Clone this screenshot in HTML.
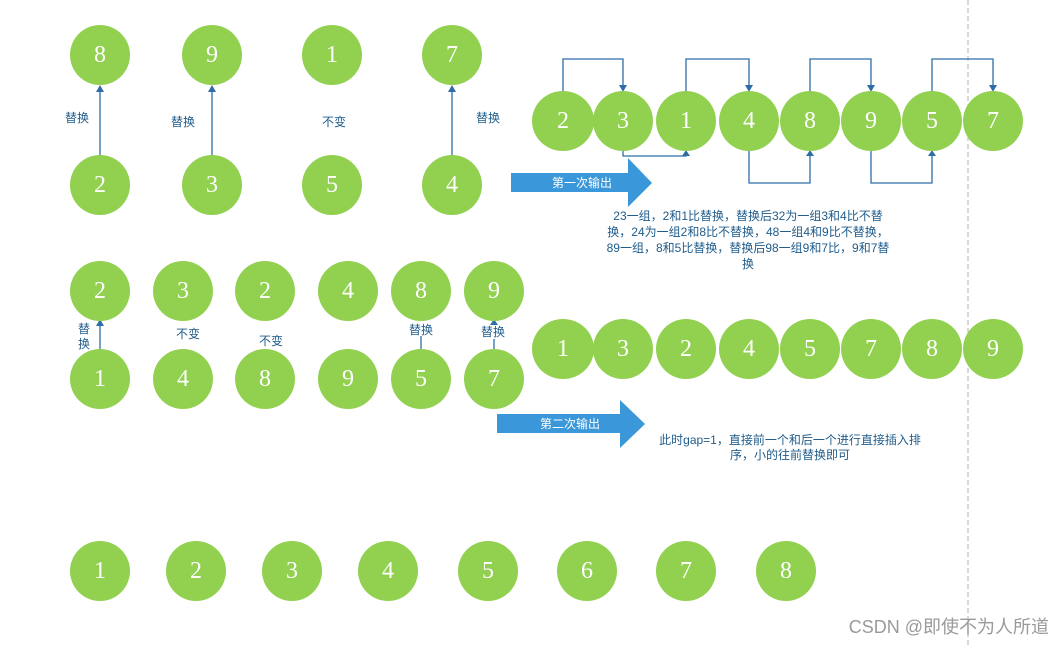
<!DOCTYPE html>
<html><head><meta charset="utf-8"><style>
html,body{margin:0;padding:0;background:#fff;}
svg{display:block}
.c{fill:#92d050}
.n{fill:#fff;font-family:"Liberation Serif","Noto Serif CJK SC",serif;font-size:24px;text-anchor:middle;dominant-baseline:central}
.l{fill:#1f5c8b;font-family:"Liberation Sans","Noto Sans CJK SC",sans-serif;font-size:12px;text-anchor:middle}
.ln{stroke:#2e6ea6;stroke-width:1.3;fill:none}
.ah{fill:#2e6ea6}
.w{fill:#fff;font-family:"Liberation Sans","Noto Sans CJK SC",sans-serif;font-size:12px;text-anchor:middle}
</style></head><body>
<svg width="1064" height="646" viewBox="0 0 1064 646">
<line x1="968" y1="0" x2="968" y2="646" stroke="#b0b0b0" stroke-width="1" stroke-dasharray="5,3"/>
<g>
<circle class="c" cx="100" cy="55" r="30"/><text class="n" x="100" y="55">8</text>
<circle class="c" cx="212" cy="55" r="30"/><text class="n" x="212" y="55">9</text>
<circle class="c" cx="332" cy="55" r="30"/><text class="n" x="332" y="55">1</text>
<circle class="c" cx="452" cy="55" r="30"/><text class="n" x="452" y="55">7</text>
<circle class="c" cx="100" cy="185" r="30"/><text class="n" x="100" y="185">2</text>
<circle class="c" cx="212" cy="185" r="30"/><text class="n" x="212" y="185">3</text>
<circle class="c" cx="332" cy="185" r="30"/><text class="n" x="332" y="185">5</text>
<circle class="c" cx="452" cy="185" r="30"/><text class="n" x="452" y="185">4</text>
<line class="ln" x1="100" y1="155" x2="100" y2="90"/><polygon class="ah" points="100,85 96,92 104,92"/>
<line class="ln" x1="212" y1="155" x2="212" y2="90"/><polygon class="ah" points="212,85 208,92 216,92"/>
<line class="ln" x1="452" y1="155" x2="452" y2="90"/><polygon class="ah" points="452,85 448,92 456,92"/>
<text class="l" x="77" y="122">替换</text>
<text class="l" x="183" y="126">替换</text>
<text class="l" x="334" y="126">不变</text>
<text class="l" x="488" y="122">替换</text>
</g>
<g>
<polyline class="ln" points="563,91 563,59 623,59 623,87"/><polygon class="ah" points="623,92 619,85 627,85"/>
<polyline class="ln" points="686,91 686,59 749,59 749,87"/><polygon class="ah" points="749,92 745,85 753,85"/>
<polyline class="ln" points="810,91 810,59 871,59 871,87"/><polygon class="ah" points="871,92 867,85 875,85"/>
<polyline class="ln" points="932,91 932,59 993,59 993,87"/><polygon class="ah" points="993,92 989,85 997,85"/>
<polyline class="ln" points="623,151 623,156 686,156 686,154"/><polygon class="ah" points="686,150 682,156 690,156"/>
<polyline class="ln" points="749,151 749,183 810,183 810,155"/><polygon class="ah" points="810,150 806,156 814,156"/>
<polyline class="ln" points="871,151 871,183 932,183 932,155"/><polygon class="ah" points="932,150 928,156 936,156"/>
<ellipse class="c" cx="563" cy="121" rx="31" ry="30"/><text class="n" x="563" y="121">2</text>
<ellipse class="c" cx="623" cy="121" rx="30" ry="30"/><text class="n" x="623" y="121">3</text>
<ellipse class="c" cx="686" cy="121" rx="30" ry="30"/><text class="n" x="686" y="121">1</text>
<ellipse class="c" cx="749" cy="121" rx="30" ry="30"/><text class="n" x="749" y="121">4</text>
<ellipse class="c" cx="810" cy="121" rx="30" ry="30"/><text class="n" x="810" y="121">8</text>
<ellipse class="c" cx="871" cy="121" rx="30" ry="30"/><text class="n" x="871" y="121">9</text>
<ellipse class="c" cx="932" cy="121" rx="30" ry="30"/><text class="n" x="932" y="121">5</text>
<ellipse class="c" cx="993" cy="121" rx="30" ry="30"/><text class="n" x="993" y="121">7</text>
<polygon fill="#3a97d9" points="511,173 628,173 628,158 652,183 628,207 628,192 511,192"/>
<text class="w" x="582" y="187">第一次输出</text>
<text class="l" x="748" y="220">23一组，2和1比替换，替换后32为一组3和4比不替</text>
<text class="l" x="748" y="236">换，24为一组2和8比不替换，48一组4和9比不替换，</text>
<text class="l" x="748" y="252">89一组，8和5比替换，替换后98一组9和7比，9和7替</text>
<text class="l" x="748" y="268">换</text>
</g>
<g>
<line class="ln" x1="100" y1="349" x2="100" y2="324"/><polygon class="ah" points="100,319 96,326 104,326"/>
<line class="ln" x1="421" y1="349" x2="421" y2="336"/>
<line class="ln" x1="494" y1="349" x2="494" y2="339"/><polygon class="ah" points="494,319 490,325 498,325"/>
<circle class="c" cx="100" cy="291" r="30"/><text class="n" x="100" y="291">2</text>
<circle class="c" cx="183" cy="291" r="30"/><text class="n" x="183" y="291">3</text>
<circle class="c" cx="265" cy="291" r="30"/><text class="n" x="265" y="291">2</text>
<circle class="c" cx="348" cy="291" r="30"/><text class="n" x="348" y="291">4</text>
<circle class="c" cx="421" cy="291" r="30"/><text class="n" x="421" y="291">8</text>
<circle class="c" cx="494" cy="291" r="30"/><text class="n" x="494" y="291">9</text>
<circle class="c" cx="100" cy="379" r="30"/><text class="n" x="100" y="379">1</text>
<circle class="c" cx="183" cy="379" r="30"/><text class="n" x="183" y="379">4</text>
<circle class="c" cx="265" cy="379" r="30"/><text class="n" x="265" y="379">8</text>
<circle class="c" cx="348" cy="379" r="30"/><text class="n" x="348" y="379">9</text>
<circle class="c" cx="421" cy="379" r="30"/><text class="n" x="421" y="379">5</text>
<circle class="c" cx="494" cy="379" r="30"/><text class="n" x="494" y="379">7</text>
<text class="l" x="84" y="333">替</text>
<text class="l" x="84" y="348">换</text>
<text class="l" x="188" y="338">不变</text>
<text class="l" x="271" y="345">不变</text>
<text class="l" x="421" y="334">替换</text>
<text class="l" x="493" y="336">替换</text>
</g>
<g>
<ellipse class="c" cx="563" cy="349" rx="31" ry="30"/><text class="n" x="563" y="349">1</text>
<ellipse class="c" cx="623" cy="349" rx="30" ry="30"/><text class="n" x="623" y="349">3</text>
<ellipse class="c" cx="686" cy="349" rx="30" ry="30"/><text class="n" x="686" y="349">2</text>
<ellipse class="c" cx="749" cy="349" rx="30" ry="30"/><text class="n" x="749" y="349">4</text>
<ellipse class="c" cx="810" cy="349" rx="30" ry="30"/><text class="n" x="810" y="349">5</text>
<ellipse class="c" cx="871" cy="349" rx="30" ry="30"/><text class="n" x="871" y="349">7</text>
<ellipse class="c" cx="932" cy="349" rx="30" ry="30"/><text class="n" x="932" y="349">8</text>
<ellipse class="c" cx="993" cy="349" rx="30" ry="30"/><text class="n" x="993" y="349">9</text>
<polygon fill="#3a97d9" points="497,414 620,414 620,400 645,424 620,448 620,433 497,433"/>
<text class="w" x="570" y="428">第二次输出</text>
<text class="l" x="790" y="444">此时gap=1，直接前一个和后一个进行直接插入排</text>
<text class="l" x="790" y="459">序，小的往前替换即可</text>
</g>
<g>
<circle class="c" cx="100" cy="571" r="30"/><text class="n" x="100" y="571">1</text>
<circle class="c" cx="196" cy="571" r="30"/><text class="n" x="196" y="571">2</text>
<circle class="c" cx="292" cy="571" r="30"/><text class="n" x="292" y="571">3</text>
<circle class="c" cx="388" cy="571" r="30"/><text class="n" x="388" y="571">4</text>
<circle class="c" cx="488" cy="571" r="30"/><text class="n" x="488" y="571">5</text>
<circle class="c" cx="587" cy="571" r="30"/><text class="n" x="587" y="571">6</text>
<circle class="c" cx="686" cy="571" r="30"/><text class="n" x="686" y="571">7</text>
<circle class="c" cx="786" cy="571" r="30"/><text class="n" x="786" y="571">8</text>
</g>
<text x="1049" y="633" fill="#9a9a9a" font-family="Liberation Sans, Noto Sans CJK SC, sans-serif" font-size="18" text-anchor="end">CSDN @即使不为人所道</text>
</svg>
</body></html>
